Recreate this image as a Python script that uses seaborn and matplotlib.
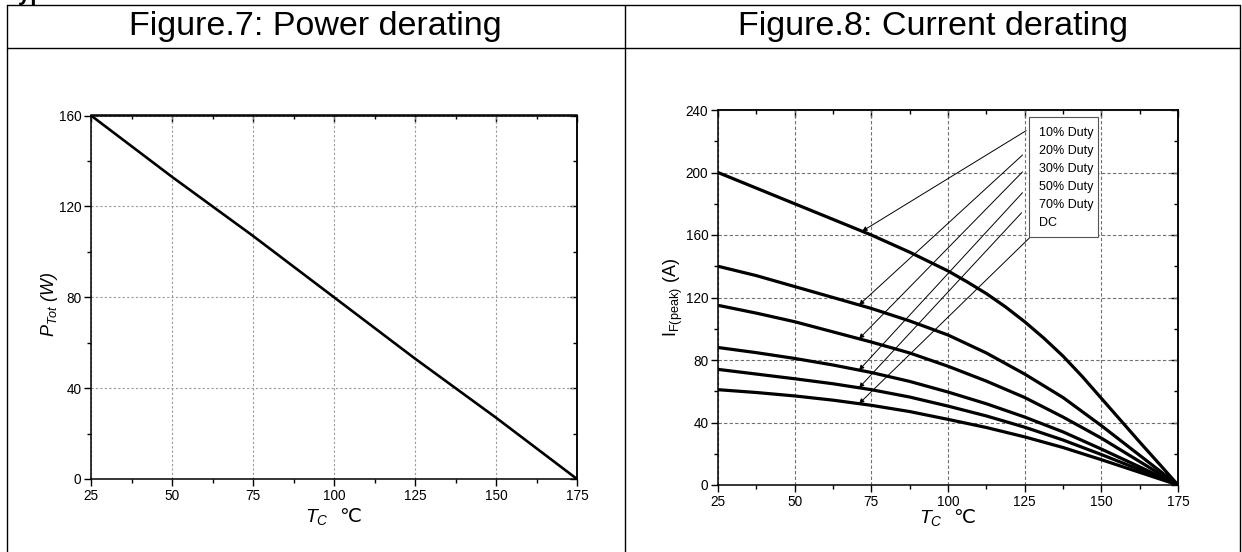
import numpy as np
import pandas as pd
import seaborn as sns
import matplotlib.pyplot as plt
from matplotlib import font_manager
from matplotlib.lines import Line2D
from matplotlib.patches import Rectangle
from matplotlib.ticker import MultipleLocator

# Figura 7: potencia total vs temperatura de carcasa
temp_power = [25, 50, 75, 100, 125, 150, 175]
power_tot = [160, 133, 107, 80, 53, 27, 0]

# Figura 8: corriente de pico vs temperatura de carcasa
temp_current = [25, 37.5, 50, 62.5, 75, 87.5, 100, 112.5, 125, 137.5, 150, 162.5, 175]
# la curva del 10% se curva mas, se leyo con mas puntos
temp_10 = [25, 31.25, 37.5, 43.75, 50, 56.25, 62.5, 68.75, 75, 81.25, 87.5, 93.75, 100,
           106.25, 112.5, 118.75, 125, 131.25, 137.5, 143.75, 150, 156.25, 162.5, 168.75, 175]
duty_10 = [200, 195, 190, 185, 180, 175, 170, 165, 160, 154.5, 149, 143, 137,
           130, 122.5, 114, 104.5, 94, 82.5, 69.5, 55.5, 41.5, 27.5, 13.8, 0]
duty_20 = [140, 134, 127, 120, 113, 105, 96, 84.5, 71, 56, 38, 19, 0]
duty_30 = [115, 110, 104.5, 98, 91.5, 84.5, 76, 66.5, 56, 43.5, 30, 15, 0]
duty_50 = [88, 84.7, 81, 76.8, 72, 66.3, 59.5, 52, 43.5, 34, 23, 11.6, 0]
duty_70 = [74, 71, 68, 64.8, 61, 56.3, 50.5, 44.2, 37, 28.8, 19.5, 9.8, 0]
duty_dc = [61, 59.2, 57, 54.3, 51, 47, 42, 36.8, 30.8, 24, 16.2, 8.1, 0]
duty_labels = ['10% Duty', '20% Duty', '30% Duty', '50% Duty', '70% Duty', 'DC']
curves = [duty_10, duty_20, duty_30, duty_50, duty_70, duty_dc]
curve_temps = [temp_10] + [temp_current] * 5

sns.set_theme(style='white')
names = {f.name for f in font_manager.fontManager.ttflist}
narrow = 'Liberation Sans Narrow' if 'Liberation Sans Narrow' in names else 'Liberation Sans'
plt.rcParams['font.family'] = ['Liberation Sans', 'DejaVu Sans']
plt.rcParams['mathtext.fontset'] = 'custom'
plt.rcParams['mathtext.rm'] = 'Liberation Sans'
plt.rcParams['mathtext.sf'] = 'Liberation Sans'
plt.rcParams['mathtext.it'] = 'Liberation Sans:italic'
for k in ('text.color', 'axes.labelcolor', 'xtick.color', 'ytick.color'):
    plt.rcParams[k] = 'black'
tick_size = 10 if narrow != 'Liberation Sans' else 9.8
legend_size = 10 if narrow != 'Liberation Sans' else 9


def style_axes(ax, ymax, ystep, grid_kw):
    ax.set_xlim(25, 175)
    ax.set_ylim(0, ymax)
    ax.xaxis.set_major_locator(MultipleLocator(25))
    ax.xaxis.set_minor_locator(MultipleLocator(12.5))
    ax.yaxis.set_major_locator(MultipleLocator(ystep))
    ax.yaxis.set_minor_locator(MultipleLocator(ystep / 2))
    ax.tick_params(which='both', direction='out', color='black', width=1,
                   labelsize=tick_size, pad=2, bottom=True, left=True, labelcolor='black')
    ax.tick_params(which='major', length=5)
    ax.tick_params(which='minor', length=3)
    for lab in ax.get_xticklabels() + ax.get_yticklabels():
        lab.set_fontfamily(narrow)
    for s in ax.spines.values():
        s.set_visible(True)
        s.set_color('black')
        s.set_linewidth(1.1)
    ax.grid(True, which='major', **grid_kw)
    ax.set_axisbelow(True)
    # ticks hacia dentro arriba y a la derecha
    top = ax.secondary_xaxis('top')
    top.xaxis.set_major_locator(MultipleLocator(25))
    top.xaxis.set_minor_locator(MultipleLocator(12.5))
    right = ax.secondary_yaxis('right')
    right.yaxis.set_major_locator(MultipleLocator(ystep))
    right.yaxis.set_minor_locator(MultipleLocator(ystep / 2))
    for sec in (top, right):
        sec.tick_params(which='both', direction='in', color='black', width=1,
                        labeltop=False, labelright=False)
        sec.tick_params(which='major', length=5)
        sec.tick_params(which='minor', length=3)
        for s in sec.spines.values():
            s.set_linewidth(1.1)
            s.set_color('black')


fig = plt.figure(figsize=(12.42, 5.52), dpi=100)

# marco de la tabla
W, H = 1242, 552
for y in (5, 48):
    fig.add_artist(Line2D([6.5 / W, 1240 / W], [1 - y / H, 1 - y / H],
                          transform=fig.transFigure, color='black', lw=1))
for x in (6.5, 625, 1240):
    fig.add_artist(Line2D([x / W, x / W], [0, 1 - 5 / H],
                          transform=fig.transFigure, color='black', lw=1))

fig.text(6 / W, 1.0, 'Typical Characteristics', fontsize=16, weight='bold', va='baseline')
fig.text(315.5 / W, 1 - 27 / H, 'Figure.7: Power derating', ha='center', va='center', fontsize=24.5)
fig.text(932.5 / W, 1 - 27 / H, 'Figure.8: Current derating', ha='center', va='center', fontsize=24.5)

# Figura 7
ax1 = fig.add_axes([91 / W, (H - 479) / H, 486 / W, 363.5 / H])
sns.lineplot(x=temp_power, y=power_tot, color='black', linewidth=1.9, ax=ax1)
style_axes(ax1, 160, 40, dict(color='#9a9a9a', linestyle=(0, (2, 2)), linewidth=0.8))
ax1.set_xlabel(r'$T_C$  ℃', fontsize=14, family='DejaVu Sans')
ax1.set_ylabel(r'$P_{Tot}$ (W)', fontsize=13, style='italic')
ax1.xaxis.set_label_coords(0.5, -0.075)
ax1.yaxis.set_label_coords(-0.064, 0.48)

# Figura 8
ax2 = fig.add_axes([718 / W, (H - 485) / H, 460 / W, 375 / H])
df = pd.DataFrame({
    'Tc': [t for ts in curve_temps for t in ts],
    'I': [v for c in curves for v in c],
    'curve': [lab for lab, c in zip(duty_labels, curves) for _ in c],
})
sns.lineplot(data=df, x='Tc', y='I', hue='curve', palette=['black'] * len(curves),
             linewidth=2.3, legend=False, estimator=None, ax=ax2)
style_axes(ax2, 240, 40, dict(color='#707070', linestyle=(0, (3, 2)), linewidth=0.8))
ax2.set_xlabel(r'$T_C$  ℃', fontsize=14, family='DejaVu Sans')
ax2.set_ylabel(r'I$_{\mathsf{F(peak)}}$ (A)', fontsize=13)
ax2.xaxis.set_label_coords(0.5, -0.06)
ax2.yaxis.set_label_coords(-0.072, 0.5)

# cuadro de leyenda y flechas
ax2.add_patch(Rectangle((0.677, 0.6605), 0.15, 0.32, transform=ax2.transAxes,
                        facecolor='white', edgecolor='#555555', lw=0.8, zorder=4))
row_y = [0.9395, 0.8915, 0.8427, 0.7939, 0.7459, 0.6979]
arrow_from = [(0.670, 0.945), (0.662, 0.880), (0.662, 0.835),
              (0.662, 0.7795), (0.660, 0.726), (0.678, 0.660)]
tip_t = [72, 71, 71, 71, 71, 71]
for label, ts, curve, ry, start, t in zip(duty_labels, curve_temps, curves, row_y, arrow_from, tip_t):
    ax2.text(0.698, ry, label, transform=ax2.transAxes, fontsize=legend_size,
             family=narrow, va='center', ha='left', zorder=5)
    ax2.annotate('', xy=(t, np.interp(t, ts, curve)), xycoords='data',
                 xytext=start, textcoords='axes fraction',
                 arrowprops=dict(arrowstyle='-|>', color='black', lw=0.7,
                                 mutation_scale=7, shrinkA=0, shrinkB=0), zorder=3)

fig.savefig('out.png', dpi=100)
